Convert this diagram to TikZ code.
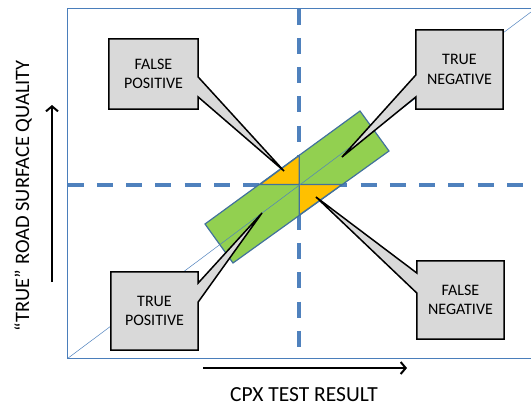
\documentclass[tikz,border=0pt]{standalone}
\usepackage{fontspec}
\setmainfont{Carlito}
\usetikzlibrary{arrows.meta,calc}
\pgfdeclarelayer{plot}
\pgfdeclarelayer{calls}
\pgfsetlayers{plot,calls,main}
\definecolor{frameblue}{HTML}{4A7EBB}
\definecolor{dashblue}{HTML}{4F81BD}
\definecolor{rimblue}{HTML}{41719C}
\definecolor{bargreen}{HTML}{92D050}
\definecolor{wedgeorange}{HTML}{FFC000}
\definecolor{boxgray}{HTML}{D9D9D9}

\begin{document}
\begin{tikzpicture}[x=1pt,y=-1pt,
  quad/.style={inner sep=0pt,align=center,font=\fontsize{16}{19.5}\selectfont},
  callout/.style={fill=boxgray,draw=black,line width=1.5pt},
  divide/.style={draw=dashblue,line width=4pt,dash pattern=on 16pt off 13.3pt},
  axis/.style={line width=2pt,-{Straight Barb[length=5pt,width=12pt]}},
  axlabel/.style={font=\fontsize{21.5}{26}\selectfont}]
  \useasboundingbox (0,0) rectangle (531,407);

  % the four outcome boxes
  \node[quad,minimum width=89pt,minimum height=70pt] (fp) at (153.5,74)  {FALSE\\POSITIVE};
  \node[quad,minimum width=87pt,minimum height=79pt] (tn) at (459.5,69.5) {TRUE\\NEGATIVE};
  \node[quad,minimum width=87pt,minimum height=78pt] (fn) at (460.5,300) {FALSE\\NEGATIVE};
  \node[quad,minimum width=87pt,minimum height=78pt] (tp) at (154.5,311) {TRUE\\POSITIVE};

  \coordinate (fptip) at (284,171);
  \coordinate (tntip) at (342,157);
  \coordinate (fntip) at (316,197);
  \coordinate (tptip) at (262,213);

  % axes
  \coordinate (ybot) at (52,282);
  \coordinate (ytop) at (52,105);
  \coordinate (xlft) at (203,368);
  \coordinate (xrgt) at (407,368);
  \draw[axis] (ybot) -- (ytop);
  \draw[axis] (xlft) -- (xrgt);
  \node[axlabel] (xlab) at (304,395) {CPX TEST RESULT};
  \node[axlabel,font=\fontsize{20.5}{25}\selectfont,rotate=90] (ylab) at (23,196) {“TRUE” ROAD SURFACE QUALITY};

  \begin{pgfonlayer}{plot}
    \draw[frameblue,line width=1.5pt] (67.5,8.5) rectangle (533,358.5);
    \draw[divide] (299.3,8.5) -- (299.3,358.5);
    \draw[divide] (67.5,184.5) -- (531,184.5);
    \draw[fill=bargreen,draw=rimblue,line width=1.2pt]
      (205,224) -- (360,111) -- (389,151) -- (233,263) -- cycle;
    \draw[fill=wedgeorange,draw=rimblue,line width=1.2pt]
      (260,184.5) -- (299.3,184.5) -- (299.3,155.5) -- cycle;
    \draw[fill=wedgeorange,draw=rimblue,line width=1.2pt]
      (299.3,184.5) -- (342,184.5) -- (299.3,215) -- cycle;
    \draw[dashblue,line width=0.5pt] (67.5,358.5) -- (531,12);
  \end{pgfonlayer}

  \begin{pgfonlayer}{calls}
    \draw[callout] (fp.north west) -- (fp.north east) -- ($(fp.east)+(0,3)$) -- (fptip)
      -- ($(fp.east)+(0,23)$) -- (fp.south east) -- (fp.south west) -- cycle;
    \draw[callout] (tn.north west) -- (tn.north east) -- (tn.south east) -- (tn.south west)
      -- ($(tn.west)+(0,27.5)$) -- (tntip) -- ($(tn.west)+(0,5.5)$) -- cycle;
    \draw[callout] (fn.north west) -- (fn.north east) -- (fn.south east) -- (fn.south west)
      -- ($(fn.west)+(0,-7)$) -- (fntip) -- ($(fn.west)+(0,-27)$) -- cycle;
    \draw[callout] (tp.north west) -- (tp.north east) -- ($(tp.east)+(0,-28)$) -- (tptip)
      -- ($(tp.east)+(0,-9)$) -- (tp.south east) -- (tp.south west) -- cycle;
  \end{pgfonlayer}
\end{tikzpicture}
\end{document}
